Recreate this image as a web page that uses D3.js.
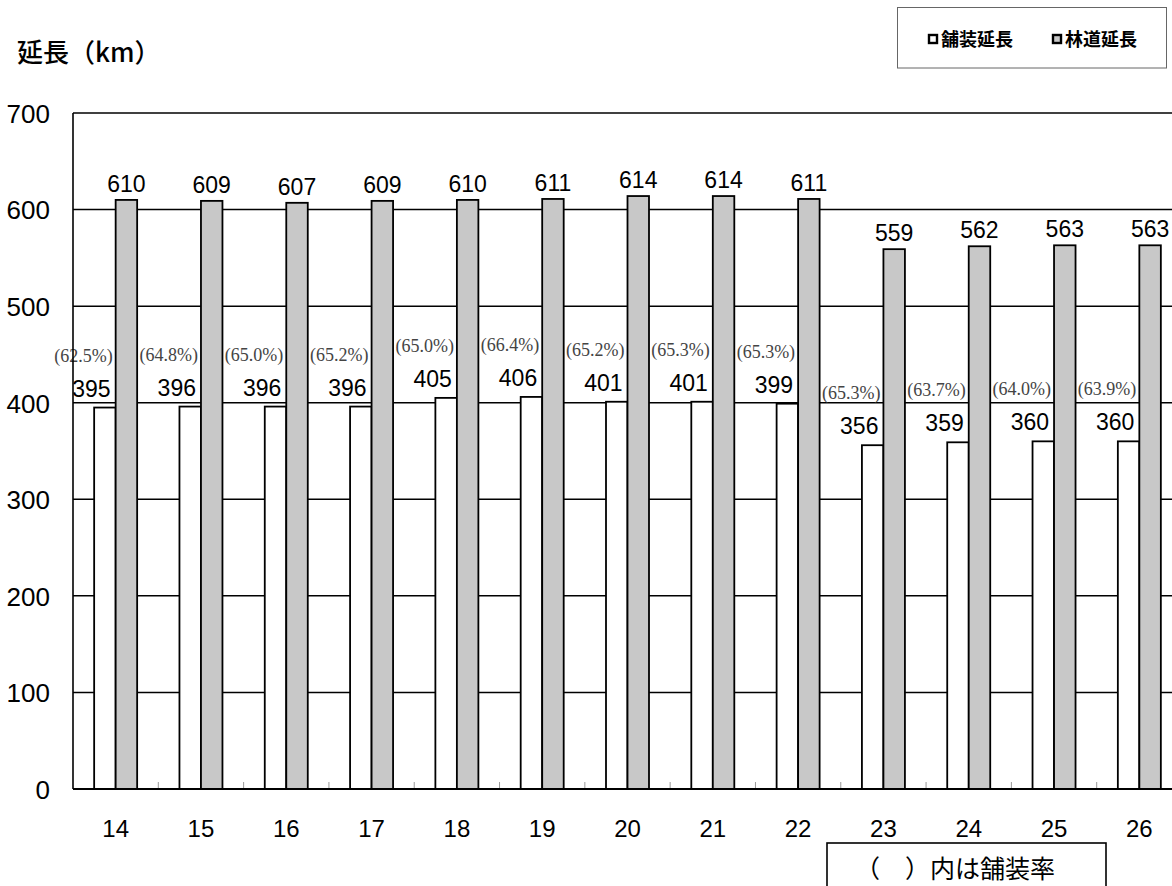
<!DOCTYPE html>
<html>
<head>
<meta charset="utf-8">
<script src="https://cdn.jsdelivr.net/npm/d3@7"></script>
<style>
  body { margin: 0; background: #fff; }
  svg { display: block; }
  .num { font-family: "Liberation Sans", Arial, sans-serif; fill: #000; }
  .jp { font-family: "Noto Sans CJK JP", sans-serif; fill: #000; }
  .rate { font-family: "Liberation Serif", "Times New Roman", serif; fill: #444; }
</style>
</head>
<body>
<script>
// data
var years = ["14", "15", "16", "17", "18", "19", "20", "21", "22", "23", "24", "25", "26"];
var pavedLength = [395, 396, 396, 396, 405, 406, 401, 401, 399, 356, 359, 360, 360];
var forestLength = [610, 609, 607, 609, 610, 611, 614, 614, 611, 559, 562, 563, 563];
var pavedRate = ["62.5", "64.8", "65.0", "65.2", "65.0", "66.4", "65.2", "65.3", "65.3", "65.3", "63.7", "64.0", "63.9"];
var seriesNames = ["舗装延長", "林道延長"];
var yTicks = [0, 100, 200, 300, 400, 500, 600, 700];

var width = 1172, height = 886;
var margin = { top: 113, left: 73 },
    plotRight = 1182,
    plotBottom = 789;

var svg = d3.select("body").append("svg")
    .attr("width", width)
    .attr("height", height);

var data = years.map(function (y, i) {
    return { year: y, paved: pavedLength[i], forest: forestLength[i], rate: pavedRate[i] };
});

// scales
var x0 = d3.scaleBand()
    .domain(years)
    .range([margin.left, plotRight]);
var barW = 21.5;
var x1 = d3.scaleBand()
    .domain(["paved", "forest"])
    .range([x0.bandwidth() / 2 - barW, x0.bandwidth() / 2 + barW]);
var y = d3.scaleLinear()
    .domain([0, 700])
    .range([plotBottom, margin.top]);

// gridlines
svg.append("g").selectAll("line")
    .data(yTicks.filter(function (d) { return d > 0; }))
    .enter().append("line")
    .attr("x1", margin.left)
    .attr("x2", plotRight)
    .attr("y1", function (d) { return y(d); })
    .attr("y2", function (d) { return y(d); })
    .attr("stroke", "#000")
    .attr("stroke-width", 1.5);

// small ticks between groups
svg.append("g").selectAll("line")
    .data(years.slice(1))
    .enter().append("line")
    .attr("x1", function (d) { return x0(d); })
    .attr("x2", function (d) { return x0(d); })
    .attr("y1", plotBottom)
    .attr("y2", plotBottom - 7)
    .attr("stroke", "#999")
    .attr("stroke-width", 1);

// bars
var groups = svg.append("g").selectAll("g")
    .data(data)
    .enter().append("g")
    .attr("transform", function (d) { return "translate(" + x0(d.year) + ",0)"; });

groups.append("rect")
    .attr("x", x1("paved"))
    .attr("y", function (d) { return y(d.paved); })
    .attr("width", x1.bandwidth())
    .attr("height", function (d) { return plotBottom - y(d.paved); })
    .attr("fill", "#fff")
    .attr("stroke", "#000")
    .attr("stroke-width", 1.8);

groups.append("rect")
    .attr("x", x1("forest"))
    .attr("y", function (d) { return y(d.forest); })
    .attr("width", x1.bandwidth())
    .attr("height", function (d) { return plotBottom - y(d.forest); })
    .attr("fill", "#c8c8c8")
    .attr("stroke", "#000")
    .attr("stroke-width", 1.8);

// value labels
groups.append("text")
    .attr("class", "num")
    .attr("x", x1("forest") + x1.bandwidth() / 2)
    .attr("y", function (d) { return y(d.forest) - 8; })
    .attr("text-anchor", "middle")
    .style("font-size", "23px")
    .text(function (d) { return d.forest; });

groups.append("text")
    .attr("class", "num")
    .attr("x", x1("paved") + x1.bandwidth() - 5)
    .attr("y", function (d) { return y(d.paved) - 11; })
    .attr("text-anchor", "end")
    .style("font-size", "23px")
    .text(function (d) { return d.paved; });

groups.append("text")
    .attr("class", "rate")
    .attr("x", x1("paved") + x1.bandwidth() - 3)
    .attr("y", function (d) { return y(d.paved) - 46; })
    .attr("text-anchor", "end")
    .style("font-size", "18px")
    .text(function (d) { return "(" + d.rate + "%)"; });

// axes lines
svg.append("line")
    .attr("x1", margin.left).attr("x2", margin.left)
    .attr("y1", margin.top).attr("y2", plotBottom)
    .attr("stroke", "#000").attr("stroke-width", 1.6);
svg.append("line")
    .attr("x1", margin.left).attr("x2", plotRight)
    .attr("y1", plotBottom).attr("y2", plotBottom)
    .attr("stroke", "#000").attr("stroke-width", 2.2);

// Y axis labels
var yAxis = svg.append("g")
    .attr("transform", "translate(50,0)")
    .call(d3.axisLeft(y).tickValues(yTicks).tickSize(0).tickPadding(0));
yAxis.select(".domain").remove();
yAxis.selectAll("text")
    .attr("class", "num")
    .attr("x", 0)
    .attr("dy", "0.36em")
    .style("font-size", "26px")
    .attr("font-family", null);

// X axis labels
var xAxis = svg.append("g")
    .attr("transform", "translate(0," + plotBottom + ")")
    .call(d3.axisBottom(x0).tickSize(0).tickPadding(0));
xAxis.select(".domain").remove();
xAxis.selectAll("text")
    .attr("class", "num")
    .attr("y", 39)
    .attr("dy", "0.36em")
    .style("font-size", "24px")
    .attr("font-family", null);

// axis title
svg.append("text")
    .attr("class", "jp")
    .attr("x", 17)
    .attr("y", 62)
    .style("font-size", "26px")
    .style("font-weight", "500")
    .text("延長（km）");

// legend
svg.append("rect")
    .attr("x", 897.5).attr("y", 7.5)
    .attr("width", 269).attr("height", 60.5)
    .attr("fill", "#fff")
    .attr("stroke", "#666").attr("stroke-width", 1);

var legendX = [929, 1053];
var legendFill = ["#fff", "#c8c8c8"];
seriesNames.forEach(function (name, i) {
    svg.append("rect")
        .attr("x", legendX[i]).attr("y", 35)
        .attr("width", 8).attr("height", 8)
        .attr("fill", legendFill[i])
        .attr("stroke", "#000").attr("stroke-width", 2.4);
    svg.append("text")
        .attr("class", "jp")
        .attr("x", legendX[i] + 12)
        .attr("y", 46)
        .style("font-size", "18px")
        .style("font-weight", "bold")
        .text(name);
});

// note box
svg.append("rect")
    .attr("x", 827).attr("y", 843)
    .attr("width", 279).attr("height", 70)
    .attr("fill", "#fff")
    .attr("stroke", "#000").attr("stroke-width", 1.6);
svg.append("text")
    .attr("class", "jp")
    .attr("x", 855)
    .attr("y", 878)
    .style("font-size", "25px")
    .text("（　）内は舗装率");
</script>
</body>
</html>
